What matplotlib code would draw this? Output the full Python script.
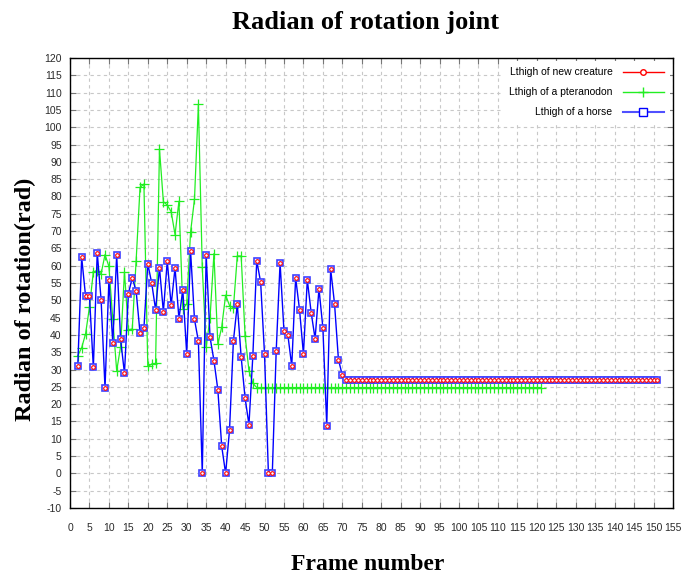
import numpy as np
from matplotlib import pyplot as plt
from matplotlib.lines import Line2D

plt.rcParams['axes.unicode_minus'] = False

# frame numbers (both series start at frame 2)
frames = np.arange(2, 152)

# Lthigh of a horse (new creature follows the same values)
horse_start = [31.0, 62.4, 51.2, 51.2, 30.6, 63.8, 50.1, 24.6, 55.8, 37.7,
               63.1, 38.8, 28.9, 51.9, 56.5, 52.7, 40.5, 41.9, 60.5,
               55.0, 47.3, 59.4, 46.7, 61.3, 48.6, 59.4, 44.7, 53.0, 34.5,
               64.1, 44.5, 38.2, 0.0, 63.2, 39.3, 32.6, 24.2, 7.8, 0.0,
               12.4, 38.2, 48.8, 33.6, 21.8, 14.1, 34.0, 61.4, 55.3, 34.5,
               0.0, 0.0, 35.3, 60.8, 41.1, 40.0, 31.0, 56.5, 47.3, 34.5, 55.9,
               46.4, 38.9, 53.3, 42.1, 13.8, 59.0, 49.0, 32.9, 28.3]
horse = horse_start + [27.0] * (len(frames) - len(horse_start))
creature = list(horse)

# Lthigh of a pteranodon (frames 2..121)
ptera_start = [34.0, 36.3, 40.3, 48.0, 58.2, 58.6, 57.7, 63.2, 59.8, 44.5,
               29.6, 36.6, 58.2, 41.5, 41.7, 61.5, 82.6, 83.6,
               31.0, 31.5, 31.8,
               93.7, 78.5, 77.5, 75.6, 69.0, 78.6, 47.5, 49.0, 69.8, 79.2,
               106.6, 59.5, 36.4, 45.0, 63.5, 37.3, 42.3, 51.5, 48.5, 47.8,
               62.8, 62.8, 39.8, 29.7, 26.0]
ptera = ptera_start + [24.8] * (120 - len(ptera_start))
ptera_frames = frames[:len(ptera)]

labels = ['Lthigh of new creature', 'Lthigh of a pteranodon', 'Lthigh of a horse']

fig = plt.figure(figsize=(6.82, 5.78), dpi=100)
ax = fig.add_axes([70/682, 1 - 508/578, 603/682, 450/578])

green = '#22ee22'
ax.plot(ptera_frames, ptera, color=green, lw=0.9, marker='+', ms=7, mew=0.9, zorder=2)
ax.plot(frames, horse, color='blue', lw=1.0, zorder=3)
ax.plot(frames, horse, ls='none', marker='s', ms=5, mfc='white', mec='#4040ff', mew=1.2, zorder=4)
ax.plot(frames, creature, ls='none', marker='o', ms=2.6, mfc='white', mec='red', mew=0.8, zorder=5)

ax.set_xlim(0, 155)
ax.set_ylim(-10, 120)
ax.set_xticks(np.arange(0, 156, 5))
ax.set_yticks(np.arange(-10, 121, 5))
ax.grid(True, ls=(0, (3, 3)), color='#c8c8c8', lw=0.8)
ax.tick_params(direction='in', top=True, right=True, length=4, color='#777777',
               labelsize=7.5, labelcolor='#2a2a2a')
ax.tick_params(axis='x', pad=11)
ax.tick_params(axis='y', pad=6)
for lab in ax.get_xticklabels() + ax.get_yticklabels():
    lab.set_family('Liberation Sans')
for sp in ax.spines.values():
    sp.set_linewidth(1.0)

handles = [Line2D([], [], color='red', lw=1, marker='o', ms=4, mfc='white', mec='red'),
           Line2D([], [], color=green, lw=1, marker='+', ms=7),
           Line2D([], [], color='#5050ff', lw=1.5, marker='s', ms=6, mfc='white', mec='blue')]
leg = ax.legend(handles, labels, loc='upper right', markerfirst=False,
                handlelength=3.9, handletextpad=1.0, labelspacing=0.95,
                borderaxespad=0.3, borderpad=0.6, frameon=True, fancybox=False,
                prop={'family': 'Liberation Sans', 'size': 7.5})
leg.get_frame().set_edgecolor('none')
leg.get_frame().set_facecolor('white')
leg.get_frame().set_alpha(1)
leg.set_zorder(10)

serif = {'family': 'Liberation Serif', 'weight': 'bold'}
fig.text(366/682, 1 - 22/578, 'Radian of rotation joint', ha='center', va='center', fontsize=19, **serif)
fig.text(368/682, 1 - 564/578, 'Frame number', ha='center', va='center', fontsize=17, **serif)
fig.text(25/682, 1 - 299/578, 'Radian of rotation(rad)', ha='center', va='center',
         rotation=90, fontsize=17.5, **serif)

fig.savefig('out.png', dpi=100)
